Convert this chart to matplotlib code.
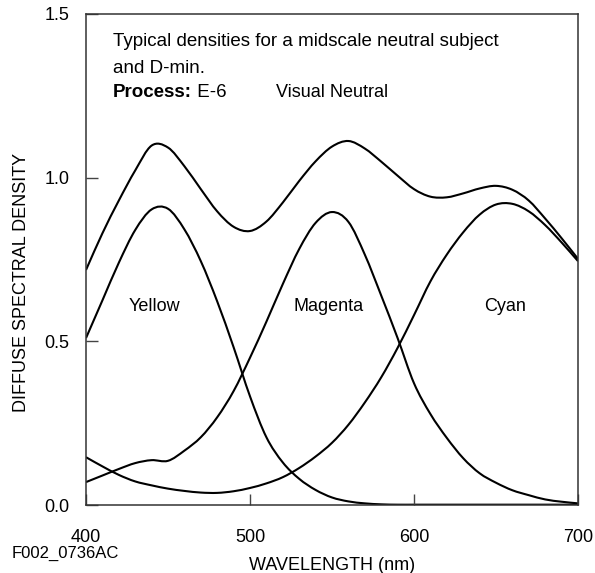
import numpy as np
import matplotlib
matplotlib.use("Agg")
import matplotlib.pyplot as plt
from matplotlib.path import Path
from matplotlib.patches import PathPatch

plt.rcParams['font.family'] = ['Liberation Sans', 'DejaVu Sans']

wavelength = [400, 410, 420, 430, 440, 450, 460, 470, 480, 490, 500,
              510, 520, 530, 540, 550, 560, 570, 580, 590, 600,
              610, 620, 630, 640, 650, 660, 670, 680, 690, 700]

neutral = [0.718, 0.830, 0.930, 1.022, 1.098, 1.092, 1.035, 0.965, 0.897, 0.850, 0.837,
           0.866, 0.924, 0.990, 1.050, 1.095, 1.112, 1.089, 1.049, 1.006, 0.965,
           0.942, 0.940, 0.952, 0.967, 0.975, 0.963, 0.930, 0.875, 0.815, 0.752]

yellow = [0.510, 0.625, 0.740, 0.840, 0.903, 0.905, 0.842, 0.745, 0.622, 0.482, 0.332,
          0.207, 0.130, 0.080, 0.046, 0.023, 0.011, 0.005, 0.002, 0.001, 0.001,
          0.001, 0.001, 0.001, 0.001, 0.001, 0.001, 0.001, 0.001, 0.001, 0.001]

magenta = [0.070, 0.090, 0.110, 0.128, 0.137, 0.135, 0.166, 0.207, 0.268, 0.348, 0.450,
           0.560, 0.675, 0.782, 0.862, 0.895, 0.865, 0.765, 0.640, 0.510, 0.372,
           0.278, 0.205, 0.143, 0.097, 0.068, 0.045, 0.030, 0.017, 0.010, 0.005]

cyan = [0.146, 0.118, 0.092, 0.072, 0.060, 0.050, 0.043, 0.038, 0.037, 0.042, 0.052,
        0.066, 0.085, 0.113, 0.148, 0.190, 0.245, 0.313, 0.390, 0.480, 0.580,
        0.683, 0.765, 0.833, 0.887, 0.918, 0.920, 0.897, 0.855, 0.802, 0.745]

curve_labels = ["Visual Neutral", "Yellow", "Magenta", "Cyan"]
label_x = [550, 441.5, 547.6, 655.5]
label_y = [1.259, 0.605, 0.605, 0.605]

x_ticks = [400, 500, 600, 700]
y_ticks = [0.0, 0.5, 1.0, 1.5]


def smooth_path(x, y):
    pts = np.column_stack([np.asarray(x, float), np.asarray(y, float)])
    p = np.vstack([2 * pts[0] - pts[1], pts, 2 * pts[-1] - pts[-2]])
    verts = [pts[0]]
    codes = [Path.MOVETO]
    for i in range(1, len(p) - 2):
        p0, p1, p2, p3 = p[i - 1], p[i], p[i + 1], p[i + 2]
        verts += [p1 + (p2 - p0) / 6.0, p2 - (p3 - p1) / 6.0, p2]
        codes += [Path.CURVE4] * 3
    return Path(verts, codes)


fig = plt.figure(figsize=(5.95, 5.73), dpi=100)
ax = fig.add_axes([86 / 595, 68 / 573, 492 / 595, 491 / 573])

for series in (neutral, yellow, magenta, cyan):
    ax.add_patch(PathPatch(smooth_path(wavelength, series), fill=False,
                           lw=1.5, ec='black', capstyle='butt', joinstyle='round'))

ax.set_xlim(400, 700)
ax.set_ylim(0, 1.5)
ax.set_xticks(x_ticks)
ax.set_xticklabels([str(v) for v in x_ticks])
ax.set_yticks(y_ticks)
ax.set_yticklabels([f"{v:.1f}" for v in y_ticks])
ax.tick_params(axis='x', direction='in', length=8, width=1.0, color='#444444',
               pad=17, labelsize=13)
ax.tick_params(axis='y', direction='in', length=8.5, width=1.0, color='#444444',
               pad=12, labelsize=13)
for s in ax.spines.values():
    s.set_color('#333333')
    s.set_linewidth(1.1)

ax.set_xlabel("WAVELENGTH (nm)", fontsize=13)
ax.xaxis.set_label_coords(0.5, -0.105)
ax.set_ylabel("DIFFUSE SPECTRAL DENSITY", fontsize=13)
ax.yaxis.set_label_coords(-0.113, 0.454)

for lab, lx, ly in zip(curve_labels, label_x, label_y):
    ax.text(lx, ly, lab, ha='center', va='center', fontsize=13)

ax.text(0.0549, 0.934, "Typical densities for a midscale neutral subject",
        transform=ax.transAxes, fontsize=13.5, va='baseline', ha='left')
ax.text(0.0549, 0.880, "and D-min.", transform=ax.transAxes, fontsize=13.5,
        va='baseline', ha='left')
t1 = ax.text(0.0549, 0.831, "Process:", transform=ax.transAxes, fontsize=13.5,
             fontweight='bold', va='baseline', ha='left')
ax.annotate(" E-6", xy=(1, 0), xycoords=t1, va='bottom', ha='left', fontsize=13.5)

fig.text(12 / 595, 1 - 553 / 573, "F002_0736AC", fontsize=12, ha='left', va='center')

fig.savefig("out.png", dpi=100)
